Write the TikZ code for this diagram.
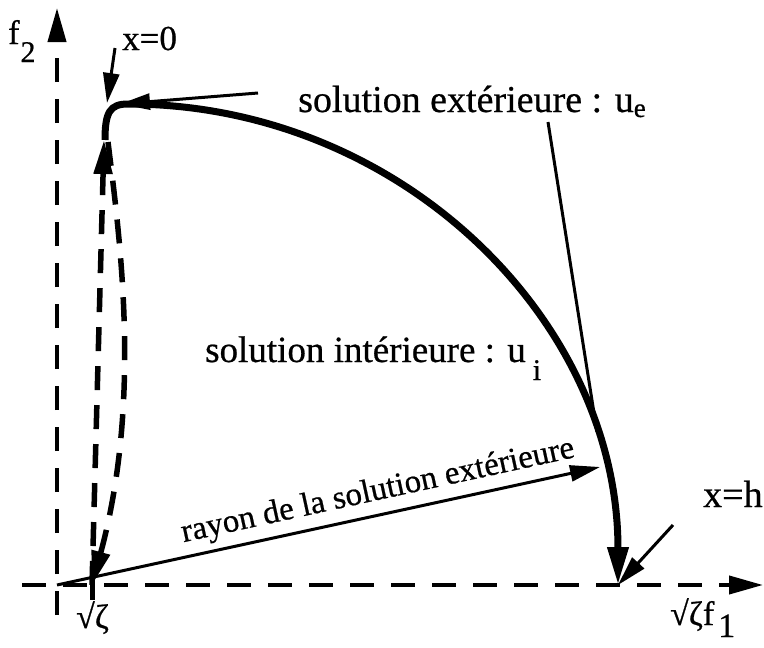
\documentclass[tikz,border=0pt]{standalone}
\usepackage{fontspec}
\setmainfont{Liberation Serif}[FakeBold=0.6]
\usetikzlibrary{arrows.meta,calc}
\tikzset{
  axis/.style={line width=4pt,dash pattern=on 24pt off 17pt,-{Triangle[length=34pt,width=18pt]}},
  orbit/.style={line width=7pt,-{Triangle[length=38pt,width=20pt]}},
  inner/.style={line width=5.5pt,dash pattern=on 24pt off 15pt,-{Triangle[length=34pt,width=18pt]}},
  ptr/.style={line width=3pt,-{Triangle[length=30pt,width=16pt]}},
  lbl/.style={inner sep=0pt,anchor=base west}
}
\newcommand{\fs}[1]{\fontsize{#1}{#1}\selectfont}

\begin{document}
\begin{tikzpicture}[x=1pt,y=-1pt]
  \useasboundingbox (0,0) rectangle (764,648);
  % points of the plane
  \coordinate (O) at (57,585);
  \coordinate (Z) at (92,585);
  \coordinate (T) at (104,140);
  \coordinate (H) at (618,585);
  \coordinate (R) at (600,467);
  \coordinate (xa) at (22,585);
  \coordinate (xb) at (763,585);
  \coordinate (ya) at (57,615);
  \coordinate (yb) at (57,8);
  % axes
  \draw[axis] (xa) -- (xb);
  \draw[axis] (ya) -- (yb);
  \draw[line width=5pt] (Z) -- ++(0,15);
  % solutions
  \draw[orbit] (105,140) .. controls (105,112) and (110,104) .. (128,104)
     .. controls (400,104) and (618,320) .. (H);
  \draw[inner] (Z) -- (T);
  \draw[inner] ($(T)+(4,2)$) .. controls (120,240) and (142,400) .. (Z);
  \draw[ptr] (O) -- node[sloped,above=3pt,pos=0.6,font=\fs{33}] {rayon de la solution extérieure} (R);
  % labels
  \node[lbl,font=\fs{34}] (lf2) at (8,44) {f\hspace{1pt}\raisebox{-18pt}{\fs{30}2}};
  \node[lbl,font=\fs{35}] (lx0) at (122,50) {x=0};
  \node[lbl,font=\fs{38}] (lext) at (298,112) {solution extérieure : u\raisebox{-5pt}{\fs{27}e}};
  \node[lbl,font=\fs{37}] (lint) at (205,362) {solution intérieure : u\hspace{7pt}\raisebox{-18pt}{\fs{30}i}};
  \node[lbl,font=\fs{38}] (lxh) at (703,507) {x=h};
  \node[lbl,font=\fs{34}] (lf1) at (670,625) {√ζf\hspace{4pt}\raisebox{-12pt}{1}};
  \node[lbl,font=\fs{34}] (lz) at (76,628) {√ζ};
  % pointers
  \coordinate (p0) at (115,48);
  \coordinate (c0) at (107,103);
  \coordinate (pe) at (258,93);
  \coordinate (c1) at (120,104);
  \coordinate (q1) at (548,122);
  \coordinate (q2) at (597,432);
  \coordinate (ph) at (673,525);
  \draw[ptr] (p0) -- (c0);
  \draw[ptr] (pe) -- (c1);
  \draw[line width=3pt] (q1) -- (q2);
  \draw[ptr] (ph) -- (H);
\end{tikzpicture}
\end{document}
